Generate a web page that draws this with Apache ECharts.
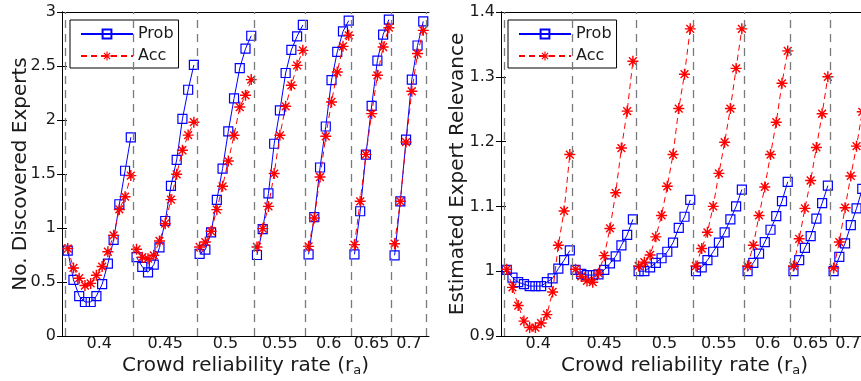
<!DOCTYPE html>
<html><head><meta charset="utf-8">
<script src="https://cdn.jsdelivr.net/npm/echarts@6/dist/echarts.min.js"></script>
<style>html,body{margin:0;padding:0;background:#fff}#c{width:861px;height:381px}</style>
</head><body><div id="c"></div>
<script>
// tick labels: crowd reliability rate r_a (one block of points per rate)
const rateLabels = ['0.4', '0.45', '0.5', '0.55', '0.6', '0.65', '0.7'];

// Left panel: No. Discovered Experts
const expertsProb = [
  [0.79, 0.52, 0.37, 0.315, 0.315, 0.37, 0.48, 0.67, 0.89, 1.22, 1.53, 1.84],
  [0.73, 0.64, 0.59, 0.66, 0.82, 1.065, 1.39, 1.63, 2.01, 2.28, 2.51],
  [0.76, 0.80, 0.96, 1.26, 1.55, 1.895, 2.20, 2.48, 2.66, 2.78],
  [0.75, 0.99, 1.32, 1.78, 2.09, 2.435, 2.65, 2.775, 2.88],
  [0.756, 1.10, 1.56, 1.94, 2.37, 2.63, 2.82, 2.92],
  [0.756, 1.155, 1.68, 2.13, 2.55, 2.79, 2.93],
  [0.747, 1.247, 1.818, 2.374, 2.69, 2.914]
];
const expertsAcc = [
  [0.81, 0.63, 0.535, 0.467, 0.487, 0.562, 0.643, 0.78, 0.932, 1.172, 1.29, 1.485],
  [0.803, 0.73, 0.716, 0.747, 0.88, 1.04, 1.263, 1.497, 1.72, 1.86, 1.98],
  [0.824, 0.87, 0.97, 1.17, 1.386, 1.62, 1.858, 2.12, 2.229, 2.374],
  [0.824, 0.994, 1.2, 1.504, 1.858, 2.127, 2.321, 2.506, 2.645],
  [0.83, 1.093, 1.472, 1.849, 2.167, 2.444, 2.682, 2.784],
  [0.846, 1.247, 1.682, 2.059, 2.414, 2.676, 2.855],
  [0.855, 1.247, 1.796, 2.266, 2.615, 2.83]
];

// Right panel: Estimated Expert Relevance
const relevanceProb = [
  [1.002, 0.99, 0.983, 0.98, 0.977, 0.977, 0.977, 0.983, 0.989, 1.004, 1.017, 1.032],
  [1.002, 0.996, 0.994, 0.994, 0.995, 1.002, 1.012, 1.023, 1.040, 1.056, 1.080],
  [1.0, 1.0, 1.006, 1.013, 1.020, 1.030, 1.044, 1.067, 1.084, 1.110],
  [1.0, 1.006, 1.017, 1.030, 1.044, 1.060, 1.080, 1.100, 1.126],
  [1.0, 1.013, 1.027, 1.045, 1.064, 1.085, 1.108, 1.138],
  [1.0, 1.017, 1.036, 1.054, 1.081, 1.105, 1.132],
  [1.0, 1.022, 1.043, 1.071, 1.097, 1.127]
];
const relevanceAcc = [
  [1.003, 0.975, 0.947, 0.923, 0.913, 0.913, 0.920, 0.933, 0.968, 1.040, 1.093, 1.180],
  [1.003, 0.992, 0.985, 0.983, 0.997, 1.024, 1.066, 1.121, 1.190, 1.247, 1.324],
  [1.008, 1.014, 1.025, 1.053, 1.086, 1.131, 1.180, 1.251, 1.304, 1.374],
  [1.008, 1.035, 1.060, 1.100, 1.151, 1.199, 1.251, 1.313, 1.374],
  [1.008, 1.040, 1.086, 1.130, 1.180, 1.230, 1.290, 1.340],
  [1.008, 1.050, 1.097, 1.140, 1.191, 1.243, 1.300],
  [1.005, 1.045, 1.098, 1.147, 1.193, 1.246]
];

const yLeftName = 'No. Discovered Experts';
const yRightName = 'Estimated Expert Relevance';
const xName = 'Crowd reliability rate (r{s|a})';

// ---- derived layout from block sizes ----
const blockSizes = expertsProb.map(s => s.length);
const boundaries = [0.5];
const centers = [];
let acc = 0;
blockSizes.forEach(n => { centers.push(acc + (n + 1) / 2); acc += n; boundaries.push(acc + 0.5); });
const total = acc;

function pairs(segs) {
  const out = []; let i = 0;
  segs.forEach((seg, s) => {
    if (s > 0) out.push([i + 0.5, '-']);
    seg.forEach(v => { i++; out.push([i, v]); });
  });
  return out;
}

const FONT = 'DejaVu Sans';
const BLUE = '#0000ff', RED = '#ff0000', TXT = '#1a1a1a';
const STAR = 'path://M-0.65,-5L0.65,-5L0.65,5L-0.65,5Z M-5,-0.65L5,-0.65L5,0.65L-5,0.65Z ' +
  'M-3.08,-4.0L4.0,3.08L3.08,4.0L-4.0,-3.08Z M4.0,-3.08L-3.08,4.0L-4.0,3.08L3.08,-4.0Z';

function xAxes(gi) {
  return [{
    type: 'value', gridIndex: gi, min: 0, max: total + 1, interval: 0.5,
    name: xName, nameLocation: 'middle', nameGap: 19, nameMoveOverlap: false,
    nameTextStyle: { fontFamily: FONT, fontSize: 20, color: TXT,
      rich: { s: { fontFamily: FONT, fontSize: 13, color: TXT, padding: [9, 0, 0, 0] } } },
    axisLine: { show: true, lineStyle: { color: '#000', width: 1 } },
    axisTick: { show: false }, splitLine: { show: false },
    axisLabel: {
      fontFamily: FONT, fontSize: 16, color: TXT, margin: 0,
      formatter: v => { const k = centers.findIndex(c => Math.abs(c - v) < 1e-6); return k >= 0 ? rateLabels[k] : ''; }
    }
  }, {
    type: 'value', gridIndex: gi, position: 'top', min: 0, max: total + 1,
    axisLine: { show: true, onZero: false, lineStyle: { color: '#000', width: 1 } },
    axisTick: { show: false }, axisLabel: { show: false }, splitLine: { show: false }
  }];
}
function yAxes(gi, min, max, interval, name, gap) {
  return [{
    type: 'value', gridIndex: gi, min, max, interval,
    name, nameLocation: 'middle', nameGap: gap, nameMoveOverlap: false,
    nameTextStyle: { fontFamily: FONT, fontSize: 20, color: TXT },
    axisLine: { show: true, lineStyle: { color: '#000', width: 1 } },
    axisTick: { show: true, inside: true, length: 5, lineStyle: { color: '#000' } },
    axisLabel: { fontFamily: FONT, fontSize: 16, color: TXT, margin: 6 },
    splitLine: { show: false }
  }, {
    type: 'value', gridIndex: gi, position: 'right', min, max, interval,
    axisLine: { show: true, lineStyle: { color: '#000', width: 1 } },
    axisTick: { show: true, inside: true, length: 5, lineStyle: { color: '#000' } },
    axisLabel: { show: false }, splitLine: { show: false }
  }];
}

function seriesFor(gi, probSegs, accSegs) {
  const xi = gi * 2, yi = gi * 2;
  return [{
    type: 'line', xAxisIndex: xi, yAxisIndex: yi, data: [], z: 1, silent: true,
    markLine: {
      silent: true, symbol: ['none', 'none'], label: { show: false },
      lineStyle: { color: '#7a7a7a', width: 1.3, type: [8, 6] },
      data: boundaries.map(b => ({ xAxis: b }))
    }
  }, {
    name: 'Prob', type: 'line', xAxisIndex: xi, yAxisIndex: yi, z: 3,
    data: pairs(probSegs), connectNulls: false,
    symbol: 'rect', symbolSize: 9,
    lineStyle: { color: BLUE, width: 1 },
    itemStyle: { color: 'rgba(255,255,255,0)', borderColor: BLUE, borderWidth: 1.2 }
  }, {
    name: 'Acc', type: 'line', xAxisIndex: xi, yAxisIndex: yi, z: 4,
    data: pairs(accSegs), connectNulls: false,
    symbol: STAR, symbolSize: 11,
    lineStyle: { color: RED, width: 1, type: [6, 4] },
    itemStyle: { color: RED }
  }];
}

function legend(left) {
  return {
    data: ['Prob', 'Acc'], orient: 'vertical', left, top: 20,
    padding: [6, 5, 4, 10], itemGap: 6, itemWidth: 52, itemHeight: 11,
    backgroundColor: '#fff', borderColor: '#000', borderWidth: 1, borderRadius: 0,
    textStyle: { fontFamily: FONT, fontSize: 16, color: TXT }, selectedMode: false
  };
}

const chart = echarts.init(document.getElementById('c'));
chart.setOption({
  animation: false,
  backgroundColor: '#fff',
  grid: [
    { left: 62, top: 12, width: 367, bottom: 45, outerBoundsMode: 'none', containLabel: false },
    { left: 501, top: 12, width: 367, bottom: 45, outerBoundsMode: 'none', containLabel: false }
  ],
  legend: [legend(70), legend(508)],
  xAxis: [...xAxes(0), ...xAxes(1)],
  yAxis: [...yAxes(0, 0, 3, 0.5, yLeftName, 31), ...yAxes(1, 0.9, 1.4, 0.1, yRightName, 33)],
  series: [...seriesFor(0, expertsProb, expertsAcc), ...seriesFor(1, relevanceProb, relevanceAcc)]
});
</script></body></html>
